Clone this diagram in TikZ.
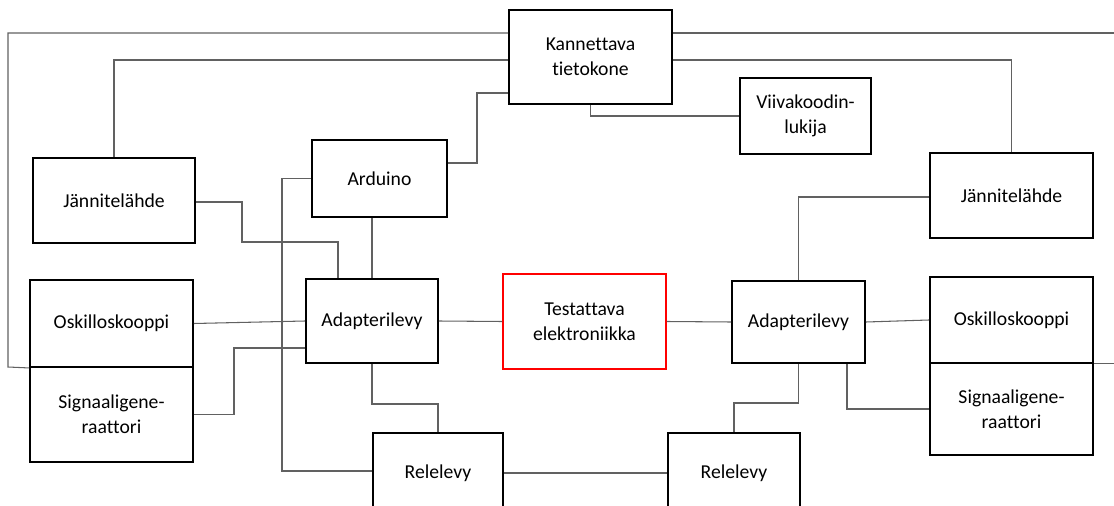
\documentclass[tikz,border=0pt]{standalone}
\usepackage{fontspec}
\setmainfont[Ligatures=NoCommon]{Carlito}
\tikzset{
  laite/.style={draw=black, line width=1.1pt, fill=white, align=center, inner sep=0pt,
    font=\fontsize{11.2}{14.2}\selectfont},
  johto/.style={draw=black!62, line width=0.6pt},
}
\begin{document}
\begin{tikzpicture}[x=0.02cm, y=-0.02cm]
\useasboundingbox (0,0) rectangle (1114,506);
%% laitteet
\node[laite, minimum width=3.26cm, minimum height=1.88cm] (kt) at (590.5,57) {Kannettava\\tietokone};
\node[laite, minimum width=2.62cm, minimum height=1.52cm] (vk) at (805.5,116) {Viivakoodin-\\lukija};
\node[laite, minimum width=3.24cm, minimum height=1.70cm] (jl1) at (114,200.5) {Jännitelähde};
\node[laite, minimum width=2.70cm, minimum height=1.54cm] (ard) at (379.5,178.5) {Arduino};
\node[laite, minimum width=3.26cm, minimum height=1.70cm] (jl2) at (1011.5,195.5) {Jännitelähde};
\node[laite, minimum width=3.26cm, minimum height=1.74cm] (osk1) at (111.5,323.5) {Oskilloskooppi};
\node[laite, minimum width=3.26cm, minimum height=1.90cm] (sig1) at (111.5,414.5) {Signaaligene-\\raattori};
\node[laite, minimum width=2.64cm, minimum height=1.68cm] (ad1) at (372,321) {Adapterilevy};
\node[laite, draw=red, minimum width=3.26cm, minimum height=1.90cm] (te) at (584.5,321.5) {Testattava\\elektroniikka};
\node[laite, minimum width=2.66cm, minimum height=1.64cm] (ad2) at (798.5,322) {Adapterilevy};
\node[laite, minimum width=3.26cm, minimum height=1.72cm] (osk2) at (1011.5,320) {Oskilloskooppi};
\node[laite, minimum width=3.26cm, minimum height=1.84cm] (sig2) at (1011.5,409) {Signaaligene-\\raattori};
\node[laite, minimum width=2.60cm, minimum height=1.60cm] (rl1) at (438,473) {Relelevy};
\node[laite, minimum width=2.64cm, minimum height=1.60cm] (rl2) at (734,473) {Relelevy};
%% johdot
\draw[johto] (kt.west |- 0,33) -| (8,367) -- (osk1.south west);
\draw[johto] (kt.east |- 0,33) -- (1120,33) |- (osk2.south east);
\draw[johto] (kt.west |- 0,60) -| (jl1.north);
\draw[johto] (kt.east |- 0,60) -| (jl2.north);
\draw[johto] (kt.west |- 0,93) -| (477,163) -- (ard.east |- 0,163);
\draw[johto] (kt.south) |- (vk.west);
\draw[johto] (jl1.east |- 0,202) -| (242,242) -| (ad1.north -| 338,0);
\draw[johto] (ard.south -| ad1.north) -- (ad1.north);
\draw[johto] (ard.west) -| (282,471) -- (rl1.west |- 0,471);
\draw[johto] (osk1.east) -- (ad1.west);
\draw[johto] (sig1.east) -| (234,348) -- (ad1.west |- 0,348);
\draw[johto] (ad1.east) -- (te.west);
\draw[johto] (ad1.south) |- (rl1.north |- 0,404) -- (rl1.north);
\draw[johto] (rl1.east) -- (rl2.west);
\draw[johto] (te.east) -- (ad2.west);
\draw[johto] (ad2.north) |- (jl2.west |- 0,197);
\draw[johto] (ad2.east) -- (osk2.west);
\draw[johto] (ad2.south -| 847,0) |- (sig2.west);
\draw[johto] (ad2.south) |- (rl2.north |- 0,403) -- (rl2.north);
\end{tikzpicture}
\end{document}
